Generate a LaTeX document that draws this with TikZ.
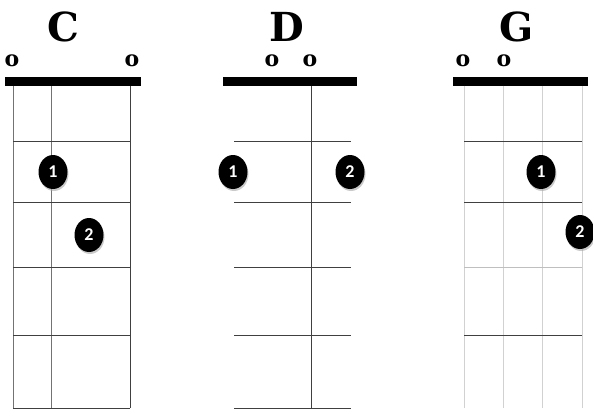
\documentclass[tikz,border=0pt]{standalone}
\usepackage{fontspec}
\setmainfont{DejaVu Serif}
\newfontfamily\dotfont{Carlito}
\usetikzlibrary{shapes.geometric,shadows}
\begin{document}
\begin{tikzpicture}[x=1pt,y=-1pt,
  title/.style={font=\bfseries\fontsize{40}{40}\selectfont, inner sep=0pt},
  openmark/.style={font=\bfseries\fontsize{22}{22}\selectfont, inner sep=0pt},
  nutbar/.style={fill=black},
  strdark/.style={draw=black!75, line width=0.9pt},
  strgray/.style={draw=black!55, line width=0.8pt},
  strlight/.style={draw=black!18, line width=0.8pt},
  fretdark/.style={draw=black!75, line width=1pt},
  fretlight/.style={draw=black!25, line width=1pt},
  fingerdot/.style={ellipse, fill=black, text=white, minimum width=29pt, minimum height=34pt, inner sep=0pt,
     font=\dotfont\bfseries\fontsize{18}{18}\selectfont,
     drop shadow={shadow xshift=1pt, shadow yshift=-2pt, fill=black!35, opacity=0.6}}
]
\useasboundingbox (0,0) rectangle (593,409);
% ---------- C ----------
\node[title] (tC) at (63,27) {C};
\node[openmark] (oC1) at (12,61) {o};
\node[openmark] (oC2) at (132,61) {o};
\fill[nutbar] (5,77) rectangle (141,86);
\draw[strgray] (13,86) -- (13,408);
\draw[strgray] (51,86) -- (51,408);
\draw[strdark] (130,86) -- (130,408);
\foreach \y in {141,202,267,335,408} \draw[fretdark] (13,\y) -- (130,\y);
\node[fingerdot] (dC1) at (53,172) {1};
\node[fingerdot] (dC2) at (89,235) {2};
% ---------- D ----------
\node[title] (tD) at (287,27) {D};
\node[openmark] (oD1) at (272,61) {o};
\node[openmark] (oD2) at (310,61) {o};
\fill[nutbar] (223,77) rectangle (357,86);
\draw[strdark] (311,86) -- (311,408);
\foreach \y in {141,202,267,335,408} \draw[fretdark] (234,\y) -- (351,\y);
\node[fingerdot] (dD1) at (233,172) {1};
\node[fingerdot] (dD2) at (350,172) {2};
% ---------- G ----------
\node[title] (tG) at (517,27) {G};
\node[openmark] (oG1) at (463,61) {o};
\node[openmark] (oG2) at (504,61) {o};
\fill[nutbar] (453,77) rectangle (588,86);
\foreach \x in {464,503,542,582} \draw[strlight] (\x,86) -- (\x,408);
\draw[fretdark] (464,141) -- (582,141);
\draw[fretdark] (464,202) -- (582,202);
\draw[fretlight] (464,267) -- (582,267);
\draw[fretdark] (464,335) -- (582,335);
\node[fingerdot] (dG1) at (541,172) {1};
\node[fingerdot] (dG2) at (580,232) {2};
\end{tikzpicture}
\end{document}
